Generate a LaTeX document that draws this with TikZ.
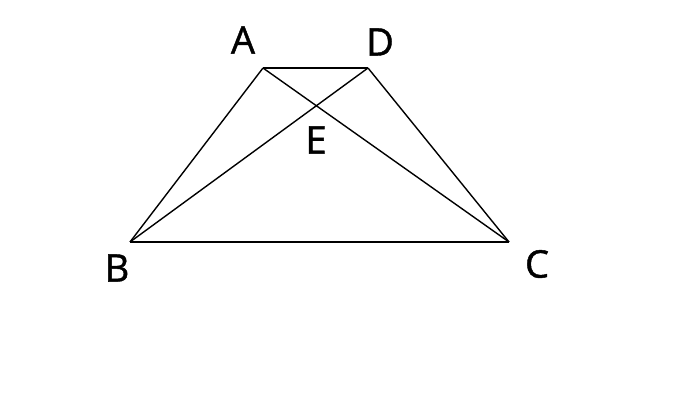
\documentclass[tikz,border=0pt]{standalone}
\usepackage{fontspec}
\setmainfont{Open Sans}
\newfontfamily\lblfont[FakeBold=1.2]{Open Sans}
\usetikzlibrary{positioning}

\begin{document}
\begin{tikzpicture}[x=0.5pt,y=-0.5pt,line width=0.7pt,
    lbl/.style={inner sep=0pt,font=\lblfont\fontsize{19}{21}\selectfont}]

            \useasboundingbox (0,0) rectangle (700,400);

            \coordinate (A) at (263,68);
            \coordinate (D) at (368,68);
            \coordinate (B) at (130,242);
            \coordinate (C) at (509,242);
            \coordinate (E) at (intersection of A--C and B--D);

            \node[lbl] (lA) at (243,40) {A};
            \node[lbl] (lD) at (380,42) {D};
            \node[lbl] (lE) at (316,140) {E};
            \node[lbl] (lB) at (117,268) {B};
            \node[lbl] (lC) at (537,264) {C};

            \path[draw] (A) edge (D)
                            edge (B)
                            edge (C)
                        (D) edge (B)
                            edge (C)
                        (B) edge (C);

        \end{tikzpicture}
\end{document}
